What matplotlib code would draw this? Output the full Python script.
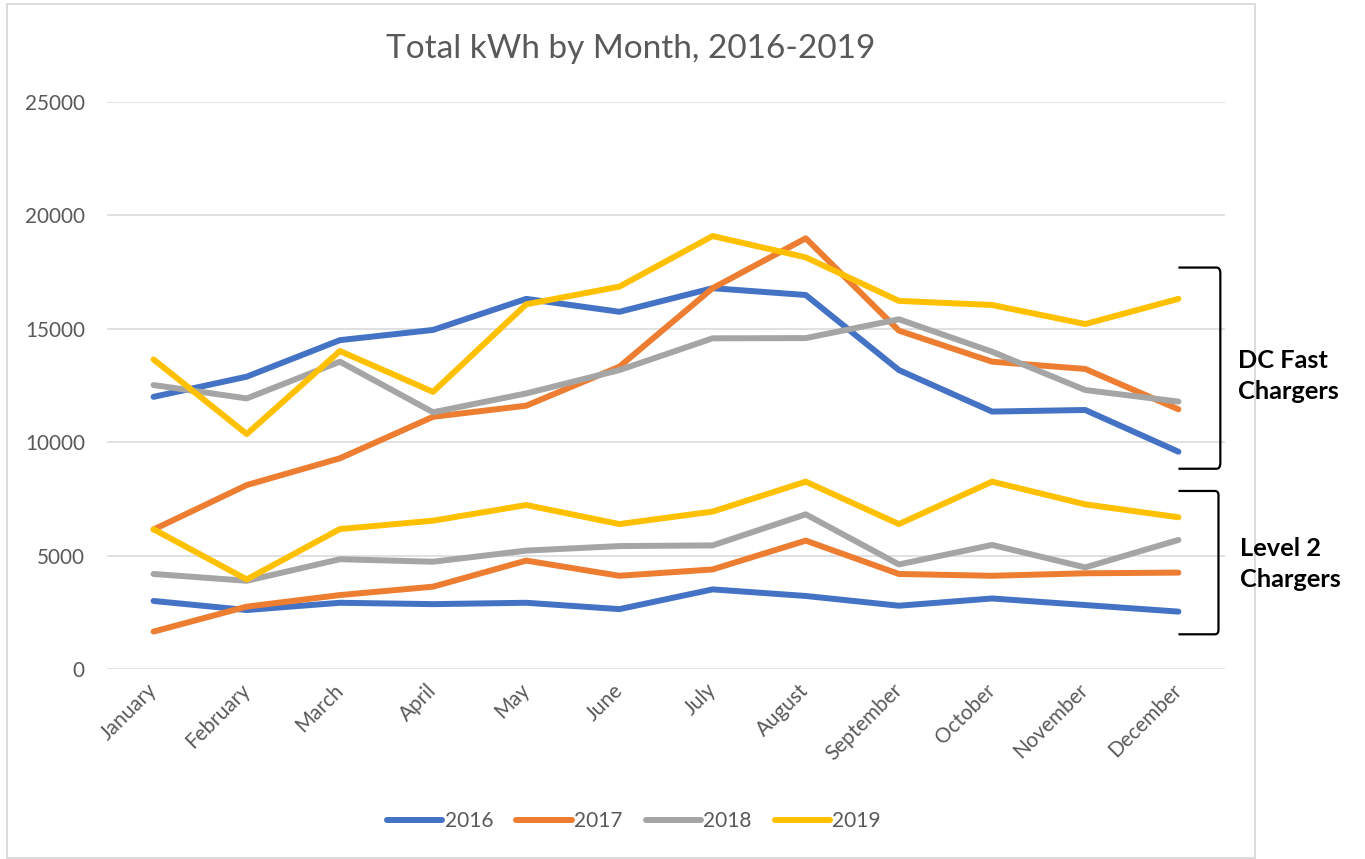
import matplotlib
matplotlib.use("Agg")
import matplotlib.pyplot as plt
from matplotlib.patches import Rectangle
from matplotlib.path import Path
from matplotlib.patches import PathPatch

months = ["January", "February", "March", "April", "May", "June", "July",
          "August", "September", "October", "November", "December"]
years = ["2016", "2017", "2018", "2019"]

# DC Fast Chargers (kWh)
dc_2016 = [12000, 12890, 14500, 14950, 16320, 15750, 16790, 16490, 13180, 11350, 11420, 9580]
dc_2017 = [6150, 8110, 9290, 11120, 11610, 13330, 16790, 18990, 14920, 13550, 13230, 11450]
dc_2018 = [12520, 11930, 13550, 11320, 12150, 13180, 14580, 14590, 15420, 13990, 12300, 11790]
dc_2019 = [13650, 10360, 14020, 12220, 16080, 16860, 19090, 18150, 16230, 16050, 15210, 16320]

# Level 2 Chargers (kWh)
l2_2016 = [3000, 2600, 2920, 2860, 2920, 2640, 3510, 3220, 2790, 3110, 2820, 2530]
l2_2017 = [1650, 2750, 3260, 3630, 4780, 4110, 4390, 5660, 4190, 4110, 4220, 4250]
l2_2018 = [4190, 3890, 4840, 4730, 5220, 5420, 5450, 6820, 4610, 5470, 4480, 5690]
l2_2019 = [6160, 3950, 6170, 6540, 7230, 6390, 6940, 8260, 6390, 8260, 7260, 6690]

y_ticks = [0, 5000, 10000, 15000, 20000, 25000]
title = "Total kWh by Month, 2016-2019"

colors = ["#4472C4", "#ED7D31", "#A5A5A5", "#FFC000"]
txt_color = "#595959"
grid_color = "#D9D9D9"

plt.rcParams["font.family"] = ["Lato", "DejaVu Sans"]

fig = plt.figure(figsize=(13.65, 8.59), dpi=100)
ax = fig.add_axes([107 / 1365, 190 / 859, 1118 / 1365, 567 / 859])

x = list(range(len(months)))
dc_series = [dc_2016, dc_2017, dc_2018, dc_2019]
l2_series = [l2_2016, l2_2017, l2_2018, l2_2019]

for i, (yr, s) in enumerate(zip(years, dc_series)):
    ax.plot(x, s, color=colors[i], lw=4.3, solid_capstyle="round",
            solid_joinstyle="round", label=yr, zorder=3)
for i, s in enumerate(l2_series):
    ax.plot(x, s, color=colors[i], lw=4.3, solid_capstyle="round",
            solid_joinstyle="round", label="_nolegend_", zorder=3)

ax.set_xlim(-0.5, len(months) - 0.5)
ax.set_ylim(0, 25000)
ax.set_yticks(y_ticks)
ax.set_yticklabels([str(v) for v in y_ticks])
ax.set_xticks(x)
ax.set_xticklabels(months, rotation=45, ha="right", va="center",
                   rotation_mode="anchor")
ax.tick_params(axis="y", length=0, pad=16, labelsize=14.9, labelcolor=txt_color)
ax.tick_params(axis="x", length=0, pad=13, labelsize=14.9, labelcolor=txt_color)
ax.grid(axis="y", color=grid_color, lw=1.1)
ax.set_axisbelow(True)
for sp in ax.spines.values():
    sp.set_visible(False)

fig.text(631 / 1365, 1 - 49 / 859, title, ha="center", va="center",
         fontsize=24, color=txt_color)

leg = fig.legend(loc="center", bbox_to_anchor=(634 / 1365, 1 - 821 / 859),
                 ncol=4, frameon=False, fontsize=15, handlelength=2.65,
                 handletextpad=0.12, columnspacing=1.1)
for t in leg.get_texts():
    t.set_color(txt_color)
for h in leg.get_lines():
    h.set_linewidth(4.3)
    h.set_solid_capstyle("round")

# chart border
fig.patches.append(Rectangle((7 / 1365, 1 / 859), 1248 / 1365, 854 / 859,
                             transform=fig.transFigure, fill=False,
                             edgecolor=grid_color, lw=1.3))


def bracket(y_top, y_bot, x_left, x_right):
    r = 0.04
    dy = (y_top - y_bot) * 0.03
    verts = [(x_left, y_top), (x_right - r, y_top), (x_right, y_top),
             (x_right, y_top - dy), (x_right, y_bot + dy), (x_right, y_bot),
             (x_right - r, y_bot), (x_left, y_bot)]
    codes = [Path.MOVETO, Path.LINETO, Path.CURVE3, Path.CURVE3,
             Path.LINETO, Path.CURVE3, Path.CURVE3, Path.LINETO]
    ax.add_patch(PathPatch(Path(verts, codes), fill=False, edgecolor="black",
                           lw=1.6, clip_on=False, zorder=4))


bracket(17700, 8830, 11.0, 11.45)
bracket(7850, 1530, 11.0, 11.43)

fig.text(1238 / 1365, 1 - 376 / 859, "DC Fast\nChargers", ha="left",
         va="center", fontsize=18.3, fontweight="bold", color="black",
         linespacing=1.45)
fig.text(1240 / 1365, 1 - 564 / 859, "Level 2\nChargers", ha="left",
         va="center", fontsize=18.3, fontweight="bold", color="black",
         linespacing=1.45)

fig.savefig("out.png", dpi=100)
